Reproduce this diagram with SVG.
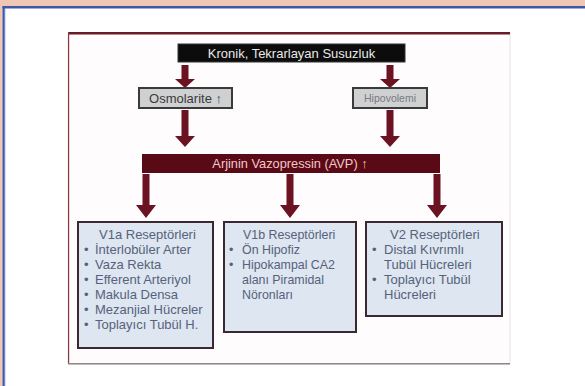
<svg xmlns="http://www.w3.org/2000/svg" width="585" height="386" viewBox="0 0 585 386">
<style>
text{font-family:"Liberation Sans",Arial,sans-serif;}
.rcp{fill:#dde6f1;stroke:#3b2830;stroke-width:2;}
.lbl{font-size:13px;fill:#56627a;}
.lbl2{font-size:12.4px;fill:#56627a;}
.gray{fill:#cfd0d2;stroke:#3a3a3a;stroke-width:2;}
.up{font-weight:bold;}
</style>
<rect width="585" height="386" fill="#ffffff"/>
<rect x="0" y="0" width="585" height="6" fill="#f1c7b3"/>
<rect x="0" y="0" width="2.5" height="386" fill="#f1c7b3"/>
<rect x="2.5" y="6" width="582.5" height="2.5" fill="#3e58a8"/>
<rect x="2.5" y="6" width="2.5" height="380" fill="#3e58a8"/>
<rect x="4.3" y="8.5" width="1" height="377.5" fill="#7f9be0"/>

<g id="slide">
<rect x="68" y="33" width="442" height="331" fill="#fefcfc" stroke="#ece4e4" stroke-width="1"/>
<rect x="68" y="32" width="442" height="2.5" fill="#6a1a24"/>
<rect x="68" y="32" width="1.2" height="332" fill="#8a3a44"/>
<rect x="68" y="363" width="442" height="1.5" fill="#8a8a8a"/>
</g>

<g id="connectors" fill="#6b1322">
<path d="M181.5,65 H188.5 V79 H195 L185,88 L175,79 H181.5 Z"/>
<path d="M386.5,65 H393.5 V79 H400 L390,88 L380,79 H386.5 Z"/>
<path d="M181.5,110 H188.5 V136 H195 L185,147 L175,136 H181.5 Z"/>
<path d="M386.5,110 H393.5 V136 H400 L390,147 L380,136 H386.5 Z"/>
<path d="M142.5,174 H149.5 V205 H156 L146,218 L136,205 H142.5 Z"/>
<path d="M286.5,174 H293.5 V205 H300 L290,218 L280,205 H286.5 Z"/>
<path d="M433.5,174 H440.5 V205 H447 L437,218 L427,205 H433.5 Z"/>
</g>

<g id="kronik">
<rect x="178" y="44" width="227" height="18" fill="#0c0c0c" stroke="#333" stroke-width="1"/>
<text x="291.5" y="57.5" font-size="13" fill="#e8e8e8" text-anchor="middle">Kronik, Tekrarlayan Susuzluk</text>
</g>

<g id="osmolarite">
<rect x="139" y="88" width="93" height="20" class="gray"/>
<text x="185.5" y="102.5" font-size="13" fill="#3a3a3a" text-anchor="middle">Osmolarite <tspan class="up">↑</tspan></text>
</g>

<g id="hipovolemi">
<rect x="353" y="88" width="74" height="20" class="gray" fill="#d6d6d8"/>
<text x="390" y="102" font-size="10.5" fill="#7a7a80" text-anchor="middle">Hipovolemi</text>
</g>

<g id="avp">
<rect x="142" y="154" width="298" height="19" fill="#5a0a14"/>
<text x="290" y="168" font-size="12.8" fill="#f0c8cc" text-anchor="middle">Arjinin Vazopressin (AVP) <tspan class="up">↑</tspan></text>
</g>

<g id="v1a">
<rect x="78" y="222" width="135" height="126" class="rcp"/>
<text x="99" y="239" class="lbl">V1a Reseptörleri</text>
<g class="lbl">
<text x="84" y="254">•</text><text x="95" y="254">İnterlobüler Arter</text>
<text x="84" y="269">•</text><text x="95" y="269">Vaza Rekta</text>
<text x="84" y="284">•</text><text x="95" y="284">Efferent Arteriyol</text>
<text x="84" y="299">•</text><text x="95" y="299">Makula Densa</text>
<text x="84" y="314">•</text><text x="95" y="314">Mezanjial Hücreler</text>
<text x="84" y="329">•</text><text x="95" y="329">Toplayıcı Tubül H.</text>
</g>
</g>

<g id="v1b">
<rect x="224" y="222" width="132" height="110" class="rcp"/>
<text x="243" y="239" class="lbl2">V1b Reseptörleri</text>
<g class="lbl2">
<text x="229" y="254">•</text><text x="242" y="254">Ön Hipofiz</text>
<text x="229" y="269">•</text><text x="242" y="269">Hipokampal CA2</text>
<text x="242" y="284">alanı Piramidal</text>
<text x="242" y="299">Nöronları</text>
</g>
</g>

<g id="v2">
<rect x="366" y="222" width="136" height="94" class="rcp"/>
<text x="390" y="239" class="lbl">V2 Reseptörleri</text>
<g class="lbl">
<text x="372" y="254">•</text><text x="384" y="254">Distal Kıvrımlı</text>
<text x="384" y="269">Tubül Hücreleri</text>
<text x="372" y="284">•</text><text x="384" y="284">Toplayıcı Tubül</text>
<text x="384" y="299">Hücreleri</text>
</g>
</g>
</svg>
